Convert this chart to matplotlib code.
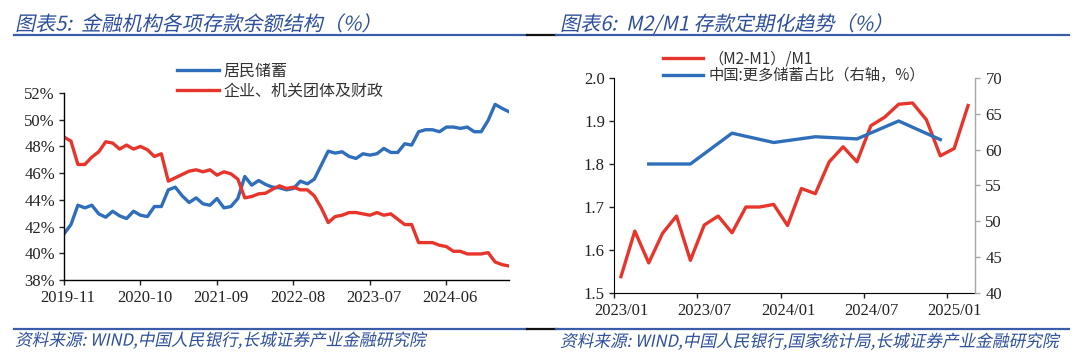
import matplotlib
matplotlib.use("Agg")
import matplotlib.pyplot as plt
import matplotlib.patheffects as pe
from matplotlib.lines import Line2D
from matplotlib.transforms import Affine2D, ScaledTranslation
import numpy as np

CJK = ['Noto Sans CJK SC', 'DejaVu Sans']
NUM = ['Liberation Serif', 'DejaVu Serif']

BLUE = '#2F6EBA'
RED = '#E8352B'
TITLE_BLUE = '#2D4F9C'
RULE_BLUE = '#3B5CA6'

# Chart 5: deposit structure, monthly 2019-11 .. 2025-03
household = [41.45, 42.15, 43.6, 43.4, 43.6, 42.95, 42.7, 43.15, 42.8, 42.6,
             43.15, 42.85, 42.75, 43.5, 43.5, 44.75, 44.95, 44.3, 43.8, 44.15,
             43.7, 43.6, 44.1, 43.4, 43.5, 44.1, 45.75, 45.1, 45.45, 45.15,
             44.95, 44.9, 44.75, 44.85, 45.4, 45.2, 45.55, 46.6, 47.65, 47.5,
             47.6, 47.25, 47.1, 47.45, 47.35, 47.45, 47.85, 47.55, 47.55, 48.2,
             48.1, 49.1, 49.25, 49.25, 49.1, 49.45, 49.45, 49.35, 49.45, 49.1,
             49.1, 49.95, 51.15, 50.85, 50.6]
corporate = [48.7, 48.4, 46.65, 46.65, 47.2, 47.6, 48.35, 48.25, 47.8, 48.1,
             47.8, 48.0, 47.75, 47.25, 47.45, 45.4, 45.65, 45.9, 46.15, 46.25,
             46.1, 46.25, 45.85, 46.1, 45.95, 45.55, 44.15, 44.25, 44.45, 44.5,
             44.8, 45.05, 44.85, 44.95, 44.75, 44.75, 44.3, 43.4, 42.3, 42.75,
             42.85, 43.05, 43.05, 42.95, 42.85, 43.05, 42.85, 42.95, 42.55, 42.15,
             42.15, 40.8, 40.8, 40.8, 40.6, 40.5, 40.15, 40.15, 39.95, 39.95,
             39.95, 40.05, 39.35, 39.15, 39.05]
deposit_months = np.arange(len(household))
deposit_ticks = [0, 11, 22, 33, 44, 55]
deposit_tick_labels = ['2019-11', '2020-10', '2021-09', '2022-08', '2023-07', '2024-06']
share_ticks = [38, 40, 42, 44, 46, 48, 50, 52]

# Chart 6: (M2-M1)/M1 monthly 2023-01 .. 2025-02, savings share quarterly
m2m1_ratio = [1.538, 1.644, 1.570, 1.639, 1.679, 1.576, 1.658, 1.679, 1.640, 1.700,
              1.700, 1.706, 1.657, 1.743, 1.731, 1.805, 1.840, 1.805, 1.889, 1.909,
              1.939, 1.942, 1.903, 1.819, 1.836, 1.936]
m2m1_months = np.arange(len(m2m1_ratio)) + 0.5
saving_share = [58.0, 58.0, 62.3, 61.0, 61.8, 61.5, 64.0, 61.4]
saving_months = [2.5, 5.5, 8.5, 11.5, 14.5, 17.5, 20.5, 23.5]
m2m1_ticks = [0, 6, 12, 18, 24]
m2m1_tick_labels = ['2023/01', '2023/07', '2024/01', '2024/07', '2025/01']
ratio_ticks = [1.5, 1.6, 1.7, 1.8, 1.9, 2.0]
share_right_ticks = [40, 45, 50, 55, 60, 65, 70]


class Slant(pe.AbstractPathEffect):
    """Fake italic for CJK text: shear each glyph path around its origin."""

    def __init__(self, deg=12):
        super().__init__()
        self.deg = deg

    def draw_path(self, renderer, gc, tpath, affine, rgbFace=None):
        x0, y0 = affine.transform((0, 0))
        shear = Affine2D().translate(-x0, -y0).skew_deg(self.deg, 0).translate(x0, y0)
        renderer.draw_path(gc, tpath, affine + shear, rgbFace)


def px(x, y):
    return x / 1080, 1 - y / 363


fig = plt.figure(figsize=(10.8, 3.63), dpi=100)

# ---- frame: titles, rules, sources ----
slant = [Slant(12)]
fig.text(*px(15, 25), '图表5:  金融机构各项存款余额结构（%）', family=CJK, fontsize=14.5,
         color=TITLE_BLUE, va='center', ha='left', path_effects=slant)
fig.text(*px(560, 25), '图表6:  M2/M1 存款定期化趋势（%）', family=CJK, fontsize=14.5,
         color=TITLE_BLUE, va='center', ha='left', path_effects=slant)
fig.text(*px(15, 341), '资料来源: WIND,中国人民银行,长城证券产业金融研究院', family=CJK,
         fontsize=12, color=TITLE_BLUE, va='center', ha='left', path_effects=slant)
fig.text(*px(560, 342), '资料来源: WIND,中国人民银行,国家统计局,长城证券产业金融研究院', family=CJK,
         fontsize=12, color=TITLE_BLUE, va='center', ha='left', path_effects=slant)

for yy in (35, 329):
    for x0, x1, c in ((14, 527, RULE_BLUE), (527, 556, '#111111'), (556, 1069, RULE_BLUE)):
        (a, b), (c2, d) = px(x0, yy), px(x1, yy)
        fig.add_artist(Line2D([a, c2], [b, d], color=c, lw=1.6, transform=fig.transFigure))

# ---- chart 5 ----
ax = fig.add_axes([64 / 1080, 1 - 280 / 363, 445 / 1080, 187 / 363])
ax.plot(deposit_months, household, color=BLUE, lw=2.4, label='居民储蓄')
ax.plot(deposit_months, corporate, color=RED, lw=2.4, label='企业、机关团体及财政')
ax.set_xlim(0, deposit_months[-1])
ax.set_ylim(38, 52)
ax.set_xticks(deposit_ticks)
ax.set_xticklabels(deposit_tick_labels)
ax.set_yticks(share_ticks)
ax.set_yticklabels([f'{v}%' for v in share_ticks])
for s in ('top', 'right'):
    ax.spines[s].set_visible(False)
for s in ('left', 'bottom'):
    ax.spines[s].set_linewidth(1.0)
ax.tick_params(length=3.5, width=1.0, labelsize=12, colors='#222222', pad=3)
ax.tick_params(axis='x', pad=4)
for lab in ax.get_xticklabels() + ax.get_yticklabels():
    lab.set_family(NUM)
shift = ScaledTranslation(4 / 100, 0, fig.dpi_scale_trans)
for lab in ax.get_xticklabels():
    lab.set_transform(lab.get_transform() + shift)
ax.legend(loc='upper left', bbox_to_anchor=px(177, 63), bbox_transform=fig.transFigure,
          frameon=False, borderpad=0, borderaxespad=0, handlelength=2.6,
          handletextpad=0.3, labelspacing=0.15, prop={'family': CJK, 'size': 11.5},
          labelcolor='#333333')

# ---- chart 6 ----
ax2 = fig.add_axes([614 / 1080, 1 - 293 / 363, 361 / 1080, 215 / 363])
ax3 = ax2.twinx()
l1, = ax2.plot(m2m1_months, m2m1_ratio, color=RED, lw=2.4, label='（M2-M1）/M1')
l2, = ax3.plot(saving_months, saving_share, color=BLUE, lw=2.4, label='中国:更多储蓄占比（右轴，%）')
ax2.set_xlim(0, 26)
ax2.set_ylim(1.5, 2.0)
ax3.set_ylim(40, 70)
ax2.set_xticks(m2m1_ticks)
ax2.set_xticklabels(m2m1_tick_labels)
ax2.set_yticks(ratio_ticks)
ax2.set_yticklabels([f'{v:.1f}' for v in ratio_ticks])
ax3.set_yticks(share_right_ticks)
ax2.spines['top'].set_visible(False)
ax2.spines['right'].set_visible(False)
for s in ('top', 'left', 'bottom'):
    ax3.spines[s].set_visible(False)
ax3.spines['right'].set_color('#A8A8A8')
ax3.spines['right'].set_linewidth(1.0)
ax2.tick_params(length=3.5, width=1.0, labelsize=12, colors='#222222', pad=3)
ax2.tick_params(axis='x', pad=4)
ax3.tick_params(length=3.5, width=1.0, labelsize=12, colors='#222222', pad=4)
ax3.tick_params(axis='y', color='#A8A8A8')
for lab in ax2.get_xticklabels() + ax2.get_yticklabels() + ax3.get_yticklabels():
    lab.set_family(NUM)
shift2 = ScaledTranslation(7.5 / 100, 0, fig.dpi_scale_trans)
for lab in ax2.get_xticklabels():
    lab.set_transform(lab.get_transform() + shift2)
ax3.legend(handles=[l1, l2], loc='upper left', bbox_to_anchor=px(663, 50),
           bbox_transform=fig.transFigure, frameon=False, borderpad=0, borderaxespad=0,
           handlelength=2.6, handletextpad=0.4, labelspacing=0.0,
           prop={'family': CJK, 'size': 11}, labelcolor='#333333')

fig.savefig('out.png', dpi=100)
